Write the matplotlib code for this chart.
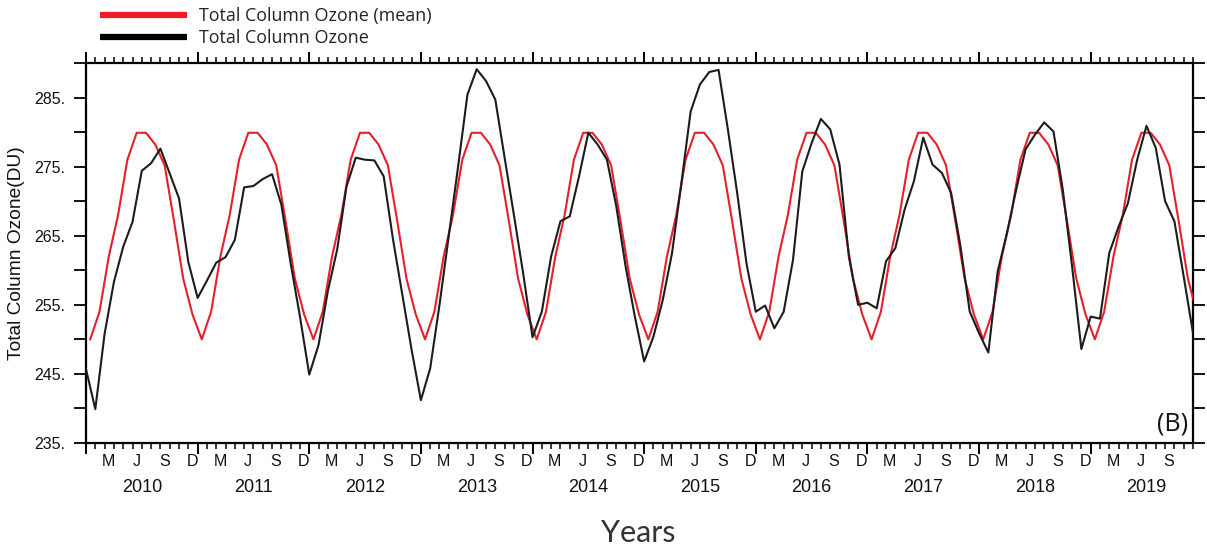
import matplotlib
matplotlib.use('Agg')
import matplotlib.pyplot as plt
from matplotlib.lines import Line2D
import numpy as np

# ---------------- data ----------------
years = [2010, 2011, 2012, 2013, 2014, 2015, 2016, 2017, 2018, 2019]
month_labels = ['M', 'J', 'S', 'D']
month_label_pos = [2, 5, 8, 11]          # month index within a year

# monthly total column ozone (DU), Jan 2010 .. Dec 2019
tco_2010 = [245.7, 239.9, 250.8, 258.3, 263.4, 267.0, 274.4, 275.5, 277.6, 274.0, 270.4, 261.2]
tco_2011 = [256.0, 258.5, 261.1, 261.9, 264.4, 272.0, 272.2, 273.2, 273.9, 269.5, 261.0, 253.3]
tco_2012 = [244.9, 249.2, 257.0, 263.0, 272.1, 276.3, 276.0, 275.9, 273.6, 264.5, 256.5, 248.5]
tco_2013 = [241.2, 245.8, 255.0, 265.0, 275.0, 285.4, 289.1, 287.4, 284.7, 276.3, 268.0, 259.5]
tco_2014 = [250.3, 254.0, 262.0, 267.1, 267.8, 273.6, 279.9, 278.2, 276.0, 269.3, 260.6, 253.3]
tco_2015 = [246.8, 250.4, 255.7, 262.5, 272.6, 283.0, 286.9, 288.7, 289.0, 280.4, 271.2, 261.0]
tco_2016 = [254.0, 254.9, 251.6, 254.0, 261.5, 274.3, 278.4, 281.9, 280.4, 275.3, 262.0, 255.0]
tco_2017 = [255.3, 254.5, 261.3, 263.2, 268.8, 272.9, 279.2, 275.3, 274.1, 271.2, 263.5, 254.0]
tco_2018 = [250.9, 248.1, 259.8, 265.4, 271.7, 277.5, 279.6, 281.4, 280.1, 271.7, 260.6, 248.6]
tco_2019 = [253.3, 253.0, 262.5, 266.3, 269.7, 276.0, 280.9, 277.7, 270.0, 267.1, 259.1, 250.9]

# monthly climatological mean (DU), Jan..Dec, repeated every year
tco_mean_clim = [250.0, 254.0, 262.0, 268.0, 276.0, 279.9, 279.9, 278.2, 275.2, 267.2, 258.8, 253.6]

label_mean = 'Total Column Ozone (mean)'
label_tco = 'Total Column Ozone'
ylabel = 'Total Column Ozone(DU)'
xlabel = 'Years'
panel = '(B)'

# ---------------- build series ----------------
tco = np.concatenate([tco_2010, tco_2011, tco_2012, tco_2013, tco_2014,
                      tco_2015, tco_2016, tco_2017, tco_2018, tco_2019])
tco_mean = np.tile(tco_mean_clim, len(years))
n = len(tco)
x_obs = np.arange(n)
x_mean = np.arange(n) + 0.45

RED = '#e3202b'
BLK = '#1c1c1c'
SANS = ['Liberation Sans', 'DejaVu Sans']

fig = plt.figure(figsize=(12.07, 5.5), dpi=100)
ax = fig.add_axes([86 / 1207, 1 - 443 / 550, (1193 - 86) / 1207, (443 - 63) / 550])

ax.plot(x_mean, tco_mean, color=RED, lw=1.5, zorder=3)
ax.plot(x_obs, tco, color=BLK, lw=1.5, zorder=4)

ax.set_xlim(0, n - 1)
ax.set_ylim(235, 290)

# y ticks
ax.set_yticks(np.arange(235, 286, 10))
ax.set_yticklabels([f'{v}.' for v in range(235, 286, 10)])
ax.set_yticks(np.arange(240, 291, 5), minor=True)

# x ticks: minor each month, major each 12 months
ax.set_xticks(np.arange(0, n, 12))
ax.set_xticks(np.arange(0, n, 1), minor=True)
ax.set_xticklabels([])

ax.tick_params(axis='y', which='both', direction='out', length=8.6, width=1.4,
               left=True, right=True, labelleft=True, labelright=False,
               pad=6, labelsize=11.5, colors='#111111')
ax.tick_params(axis='x', which='major', direction='out', length=8.0, width=1.4,
               top=True, bottom=True)
ax.tick_params(axis='x', which='minor', direction='out', length=4.3, width=1.1,
               top=True, bottom=True)
for lab in ax.get_yticklabels():
    lab.set_family(SANS)

for s in ax.spines.values():
    s.set_linewidth(1.6)

# month letters and year labels
xt = ax.get_xaxis_transform()
for k, yr in enumerate(years):
    for ml, mp in zip(month_labels, month_label_pos):
        xpos = 12 * k + mp + 0.4
        if xpos <= n - 1:
            ax.text(xpos, -0.049, ml, transform=xt, ha='center', va='center',
                    color='#111111', family=SANS, size=11.5)
    ax.text(12 * k + 6, -0.118, str(yr), transform=xt, ha='center', va='center',
            color='#111111', family=SANS, size=13)

# axis titles
ax.text(-0.063, 0.5, ylabel, transform=ax.transAxes, rotation=90, ha='center', va='center',
        family=SANS, size=13.8, color='#111111')
ax.text(0.4986, -0.237, xlabel, transform=ax.transAxes, ha='center', va='center',
        family=['Lato', 'DejaVu Sans'], size=22, color='#333333')

# panel letter
ax.text(0.9955, 0.032, panel, transform=ax.transAxes, ha='right', va='baseline',
        family=['Open Sans', 'DejaVu Sans'], size=18, color='#111111')

# legend
handles = [Line2D([], [], color='#ed1c24', lw=4.5, solid_capstyle='butt'),
           Line2D([], [], color='#000000', lw=4.5, solid_capstyle='butt')]
fig.legend(handles, [label_mean, label_tco], loc='upper left',
           bbox_to_anchor=(100 / 1207, 1 - 7 / 550), frameon=False,
           prop=dict(family=['Open Sans', 'DejaVu Sans'], size=12.9),
           handlelength=4.85, handletextpad=0.65, borderpad=0, borderaxespad=0,
           labelspacing=0.22, labelcolor='#222222')

fig.savefig('out.png', dpi=100)
